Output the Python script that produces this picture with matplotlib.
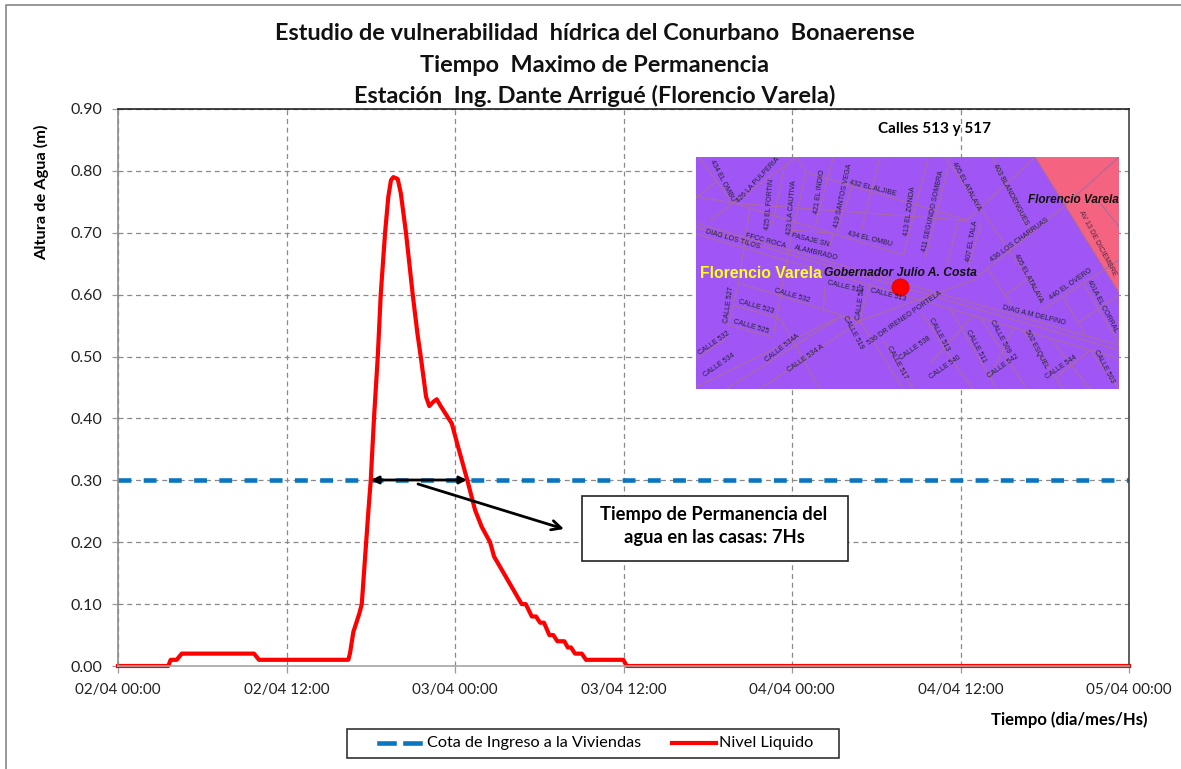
import matplotlib
matplotlib.use("Agg")
import matplotlib.pyplot as plt
from matplotlib.patches import Rectangle, Polygon

plt.rcParams['font.family'] = ['Lato', 'DejaVu Sans']

W, H = 1181, 769
AX = (118, 109, 1129, 666)  # left, top, right, bottom px

hours = [0, 3.58, 3.75, 4.18, 4.54, 9.69, 10.04, 16.40, 16.52, 16.76, 17.19, 17.36, 17.83, 18.0, 18.23,
         18.50, 18.71, 19.02, 19.25, 19.44, 19.61, 19.92, 20.14, 20.51, 20.99, 21.32, 21.56, 21.94, 22.17,
         22.46, 22.70, 22.98, 23.77, 24.15, 24.88, 25.43, 25.90, 26.14, 26.50, 26.78, 28.75, 29.04, 29.47,
         29.77, 30.06, 30.34, 30.72, 31.0, 31.29, 31.79, 32.03, 32.26, 32.55, 33.03, 33.33, 35.99, 36.23, 72]
nivel = [0, 0, 0.01, 0.01, 0.02, 0.02, 0.01, 0.01, 0.02, 0.055, 0.085, 0.10, 0.25, 0.30, 0.40,
         0.50, 0.60, 0.70, 0.758, 0.785, 0.79, 0.787, 0.764, 0.70, 0.60, 0.538, 0.50, 0.435, 0.42,
         0.427, 0.431, 0.42, 0.392, 0.36, 0.30, 0.252, 0.225, 0.215, 0.20, 0.177, 0.10, 0.10, 0.08,
         0.08, 0.07, 0.07, 0.05, 0.05, 0.04, 0.04, 0.03, 0.03, 0.02, 0.02, 0.01, 0.01, 0, 0]
cota_x = [0, 72]
cota = [0.30, 0.30]
x_ticks = [0, 12, 24, 36, 48, 60, 72]
x_labels = ['02/04 00:00', '02/04 12:00', '03/04 00:00', '03/04 12:00', '04/04 00:00', '04/04 12:00', '05/04 00:00']
y_ticks = [0, .1, .2, .3, .4, .5, .6, .7, .8, .9]

fig = plt.figure(figsize=(W/100, H/100), dpi=100, facecolor='white')
ax = fig.add_axes([AX[0]/W, 1-AX[3]/H, (AX[2]-AX[0])/W, (AX[3]-AX[1])/H])
ax.set_xlim(0, 72)
ax.set_ylim(0, 0.9)
ax.set_xticks(x_ticks)
ax.set_xticklabels(x_labels, fontsize=11, color='#222222')
ax.set_yticks(y_ticks)
ax.set_yticklabels([f'{v:.2f}' for v in y_ticks], fontsize=11.5, color='#222222')
ax.grid(True, color='#8a8a8a', ls=(0, (4, 3)), lw=0.9)
ax.set_axisbelow(True)
ax.spines['left'].set_color('#8c8c8c')
ax.spines['bottom'].set_color('#a6a6a6')
ax.spines['top'].set_color('#222222')
ax.spines['right'].set_color('#444444')
for s in ax.spines.values():
    s.set_linewidth(1.2)
ax.tick_params(axis='x', color='#999999', length=5, width=0.9, direction='out', pad=7.5)
ax.tick_params(axis='y', color='#999999', length=4, width=0.9, direction='out', pad=7)

l1, = ax.plot(cota_x, cota, color='#0b76c0', lw=3.3, ls=(0, (2.8, 2.7)), label='Cota de Ingreso a la Viviendas')
l2, = ax.plot(hours, nivel, color='#ff0000', lw=3, solid_joinstyle='round', clip_on=False, label='Nivel Liquido')

# overlay in pixel coordinates
ov = fig.add_axes([0, 0, 1, 1], facecolor='none')
ov.set_xlim(0, W); ov.set_ylim(H, 0); ov.axis('off')
ov.plot([6, 6, W], [H, 4.5, 4.5], color='#8f8f8f', lw=1.3)

for txt, y in [('Estudio de vulnerabilidad  hídrica del Conurbano  Bonaerense', 34),
               ('Tiempo  Maximo de Permanencia', 65),
               ('Estación  Ing. Dante Arrigué (Florencio Varela)', 96)]:
    ov.text(594.5, y, txt, ha='center', va='center', fontsize=16.9, fontweight='bold', color='#111111')
ov.text(42, 192, 'Altura de Agua (m)', rotation=90, ha='center', va='center', fontsize=11.8, fontweight='bold')
ov.text(1069, 720, 'Tiempo (dia/mes/Hs)', ha='center', va='center', fontsize=12, fontweight='bold')
ov.text(935, 129, 'Calles 513 y 517', ha='center', va='center', fontsize=11, fontweight='bold')

ov.annotate('', xy=(371, 480), xytext=(467, 480), arrowprops=dict(arrowstyle='<|-|>', color='black', lw=2, mutation_scale=11, shrinkA=0, shrinkB=0))
ov.annotate('', xy=(564, 529), xytext=(418, 484), arrowprops=dict(arrowstyle='->', color='black', lw=2, mutation_scale=17, shrinkA=0, shrinkB=0))
ov.add_patch(Rectangle((582, 496), 266, 65, fc='white', ec='#222222', lw=1.2, zorder=3))
ov.text(714, 526, 'Tiempo de Permanencia del\nagua en las casas: 7Hs', ha='center', va='center', fontsize=13.2, fontweight='bold', linespacing=1.45, zorder=4)

# legend
ov.add_patch(Rectangle((347, 729), 492, 29, fc='white', ec='#222222', lw=1.1, zorder=3))
ov.plot([379, 394], [743, 743], color='#0b76c0', lw=3.3, zorder=4)
ov.plot([405, 420], [743, 743], color='#0b76c0', lw=3.3, zorder=4)
ov.text(427, 743, l1.get_label(), ha='left', va='center', fontsize=11.7, zorder=4)
ov.plot([672, 716], [743, 743], color='#ff0000', lw=3, zorder=4)
ov.text(719, 743, l2.get_label(), ha='left', va='center', fontsize=11.7, zorder=4)

# map inset: coordinates follow the picture of the map
mp = fig.add_axes([696/W, 1-389/H, (1119-696)/W, (389-157)/H], facecolor='#a056f5')
mp.set_xlim(18, 1287); mp.set_ylim(836, 142)
mp.set_xticks([]); mp.set_yticks([])
for s in mp.spines.values():
    s.set_visible(False)
mp.add_patch(Polygon([(1035, 142), (1287, 142), (1287, 548)], fc='#f4637f', ec='none'))

streets = [
 [(18, 340), (1287, 705)], [(18, 352), (1287, 720)], [(18, 372), (1287, 745)],
 [(18, 260), (130, 280), (830, 332), (1035, 142)], [(130, 280), (320, 142)], [(60, 332), (130, 280)],
 [(320, 142), (348, 188), (830, 330)], [(130, 280), (640, 435)], [(18, 265), (80, 215)],
 [(25, 142), (130, 280)], [(285, 165), (245, 350)], [(348, 188), (300, 400)], [(430, 142), (375, 350)],
 [(490, 215), (440, 370)], [(570, 142), (515, 360)], [(715, 142), (640, 435)], [(775, 170), (705, 450)],
 [(805, 330), (770, 470)], [(875, 335), (835, 475)], [(765, 142), (1060, 570)], [(905, 142), (1025, 370)],
 [(18, 830), (450, 620), (510, 632), (850, 510), (1110, 300), (1287, 142)],
 [(180, 295), (145, 520), (115, 645)], [(300, 360), (430, 370), (415, 422)], [(300, 400), (250, 675)],
 [(150, 520), (510, 632)], [(130, 585), (270, 625)], [(115, 645), (245, 680)], [(18, 745), (115, 680)],
 [(110, 836), (450, 620)], [(510, 632), (640, 836)], [(580, 690), (670, 836)], [(695, 610), (800, 770), (850, 836)],
 [(780, 595), (920, 836)], [(870, 620), (1010, 836)], [(1000, 660), (1120, 836)], [(1085, 690), (1200, 836)],
 [(210, 836), (510, 632)], [(270, 625), (390, 836)], [(720, 760), (850, 615)], [(900, 800), (970, 655)],
 [(1055, 600), (1287, 450)], [(1115, 555), (1190, 680)], [(1160, 640), (1287, 555)], [(1180, 520), (1287, 700)],
 [(890, 470), (965, 585)], [(945, 555), (1010, 510)], [(405, 530), (400, 600)], [(540, 520), (510, 632)],
 [(1035, 142), (1287, 548)], [(1230, 280), (1287, 350)], [(1200, 720), (1287, 836)], [(1100, 800), (1200, 720)],
]
for seg in streets:
    mp.plot([p[0] for p in seg], [p[1] for p in seg], color='#ad6aa0', lw=0.8, solid_capstyle='butt')

labels = [
 ('434 EL OMBU', 95, 212, -62), ('426 LA PULPERIA', 205, 210, 47), ('425 EL FORTIN', 240, 285, 85),
 ('423 LA CAUTIVA', 305, 292, 85), ('421 EL INDIO', 390, 245, 82), ('419 SANTOS VEGA', 460, 258, 78),
 ('432 EL ALJIBE', 548, 237, -14), ('413 EL ZONDA', 660, 305, 82), ('411 SEGUNDO SOMBRA', 728, 305, 78),
 ('405 EL ATALAYA', 828, 228, -62), ('403 BLANDENGUES', 960, 255, -62), ('434 EL OMBU', 540, 388, -14),
 ('FFCC ROCA', 225, 392, -15), ('PASAJE SN', 362, 390, -14), ('ALAMBRADO', 378, 428, -14),
 ('DIAG LOS TILOS', 128, 388, -16), ('407 EL TALA', 845, 395, 80), ('436 LOS CHARRUAS', 990, 390, 36),
 ('405 EL ATALAYA', 1015, 505, -62), ('440 EL OVERO', 1142, 522, 35), ('401A EL CORRAL', 1235, 588, -62),
 ('DIAG A M DELFINO', 1032, 617, -14), ('CALLE 513', 465, 532, -14), ('CALLE 513', 595, 556, -14),
 ('CALLE 517', 512, 575, 82), ('CALLE 532', 305, 558, -16), ('CALLE 523', 197, 590, -16), ('CALLE 525', 182, 650, -16),
 ('CALLE 527', 117, 585, 82), ('CALLE 532', 72, 698, 35), ('CALLE 534', 88, 766, 35), ('CALLE 534A', 278, 715, 38),
 ('CALLE 534 A', 348, 745, 35), ('CALLE 519', 488, 667, -62), ('536 DR IRENEO PORTELA', 645, 625, 35),
 ('CALLE 517', 622, 755, -62), ('CALLE 538', 676, 714, 35), ('CALLE 513', 748, 672, -62), ('CALLE 540', 766, 770, 35),
 ('CALLE 511', 858, 708, -62), ('CALLE 509', 930, 678, -62), ('CALLE 542', 938, 768, 35), ('502 ESQUEL', 1040, 716, -62),
 ('CALLE 544', 1112, 770, 35), ('CALLE 503', 1242, 770, -62),
]
for t, x, y, r in labels:
    mp.text(x, y, t, fontsize=5.1, rotation=r, ha='center', va='center', color='#222233',
            family=['Liberation Sans', 'DejaVu Sans'], clip_on=True)
mp.text(1287, 272, 'Florencio Varela', ha='right', va='center', fontsize=8.5, style='italic', fontweight='bold',
        color='#111111', family=['Liberation Sans', 'DejaVu Sans'])
mp.text(212, 490, 'Florencio Varela', ha='center', va='center', fontsize=11.3, fontweight='bold', color='#ffff20',
        family=['Liberation Sans', 'DejaVu Sans'])
mp.text(632, 490, 'Gobernador Julio A. Costa', ha='center', va='center', fontsize=8.7, style='italic', fontweight='bold',
        color='#111111', family=['Liberation Sans', 'DejaVu Sans'])
mp.text(1222, 400, 'AV 13 DE DICIEMBRE', fontsize=5.1, rotation=-62, ha='center', va='center', color='#552244',
        family=['Liberation Sans', 'DejaVu Sans'])
mp.plot([630], [530], 'o', color='#ff0000', ms=12, mec='#ee0000')

fig.savefig('out.png', dpi=100)
